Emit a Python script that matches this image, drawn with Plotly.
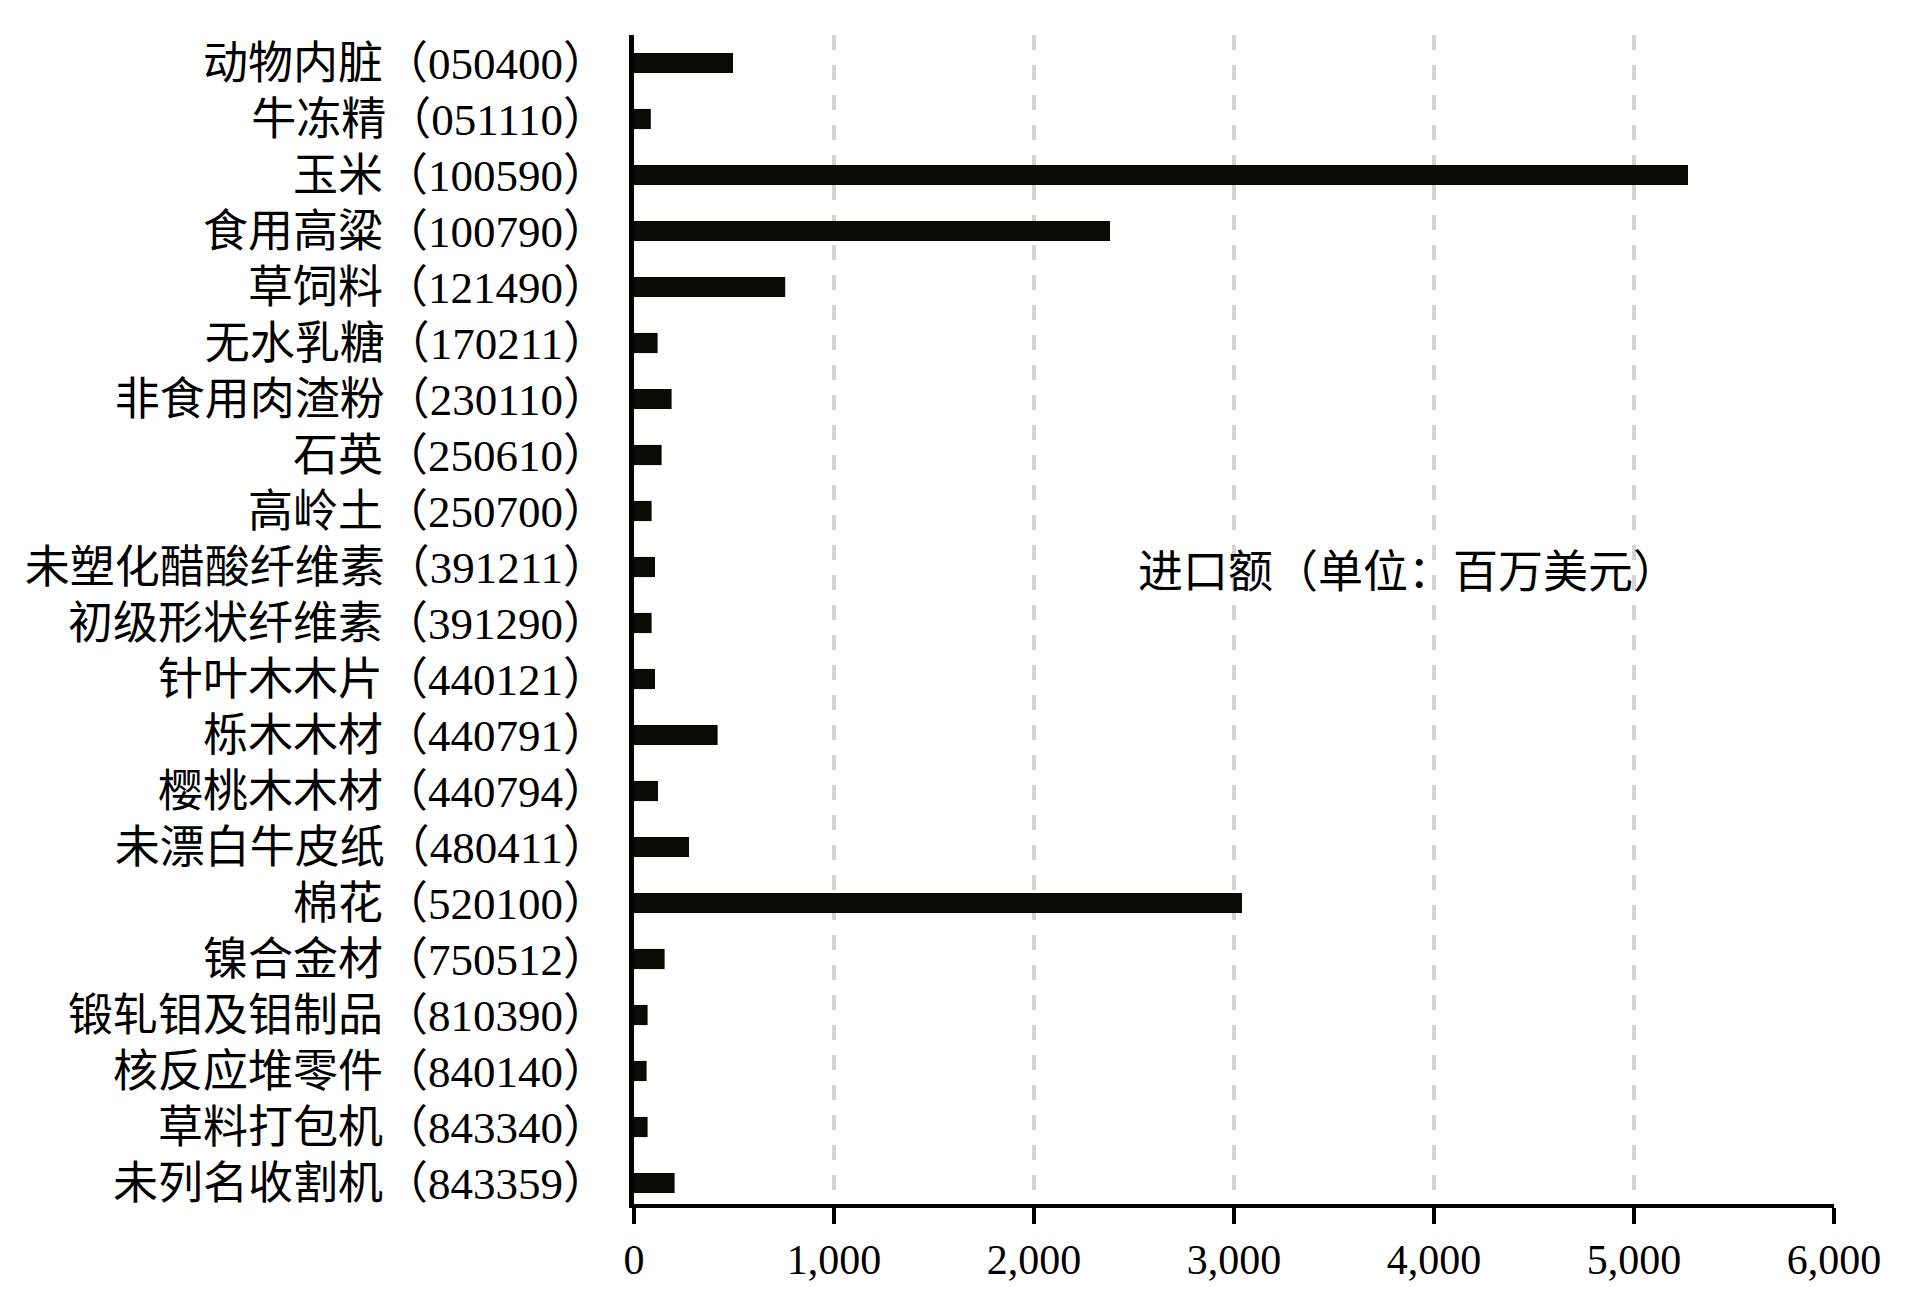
import plotly.graph_objects as go

categories = [
    "动物内脏（050400）", "牛冻精（051110）", "玉米（100590）", "食用高粱（100790）",
    "草饲料（121490）", "无水乳糖（170211）", "非食用肉渣粉（230110）", "石英（250610）",
    "高岭土（250700）", "未塑化醋酸纤维素（391211）", "初级形状纤维素（391290）",
    "针叶木木片（440121）", "栎木木材（440791）", "樱桃木木材（440794）",
    "未漂白牛皮纸（480411）", "棉花（520100）", "镍合金材（750512）",
    "锻轧钼及钼制品（810390）", "核反应堆零件（840140）", "草料打包机（843340）",
    "未列名收割机（843359）",
]
import_values = [495, 84, 5270, 2380, 756, 118, 188, 138, 88, 105, 88, 105, 418, 120,
                 275, 3040, 153, 68, 63, 68, 203]
x_ticks = [0, 1000, 2000, 3000, 4000, 5000, 6000]
note_text = "进口额（单位：百万美元）"

FONT = "Liberation Serif, Noto Sans CJK SC, serif"

fig = go.Figure(
    go.Bar(
        y=categories,
        x=import_values,
        orientation="h",
        marker=dict(color="#0b0b06", line=dict(width=0)),
        width=0.36,
        showlegend=False,
    )
)

fig.update_layout(
    width=1899,
    height=1300,
    margin=dict(l=626, r=73, t=27, b=104),
    paper_bgcolor="white",
    plot_bgcolor="white",
    font=dict(family=FONT, color="black"),
)

fig.update_xaxes(
    range=[0, 6000],
    tickvals=x_ticks,
    tickformat=",",
    showgrid=True,
    gridcolor="#d4d4d4",
    gridwidth=4,
    griddash="15px,15px",
    showline=True,
    linecolor="black",
    linewidth=4,
    ticks="outside",
    ticklen=16,
    tickwidth=4,
    tickcolor="black",
    tickfont=dict(family=FONT, size=42, color="black"),
    zeroline=False,
)

fig.update_yaxes(
    type="category",
    categoryorder="array",
    categoryarray=categories,
    range=[20.375, -0.5],
    showgrid=False,
    showline=True,
    linecolor="black",
    linewidth=5,
    ticks="",
    ticklabelstandoff=12,
    tickfont=dict(family=FONT, size=45, color="black"),
    zeroline=False,
)

fig.add_annotation(
    text=note_text,
    x=2510,
    xref="x",
    y=0.54,
    yref="paper",
    xanchor="left",
    yanchor="middle",
    showarrow=False,
    font=dict(family=FONT, size=45, color="black"),
)

fig.write_html("out.html")
